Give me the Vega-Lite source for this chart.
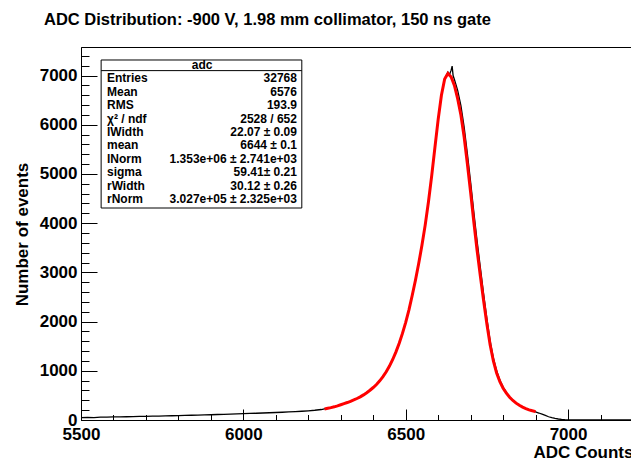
{
  "$schema": "https://vega.github.io/schema/vega-lite/v6.json",
  "width": 552,
  "height": 373,
  "autosize": {"type": "none"},
  "padding": {"left": 81, "top": 47, "right": 0, "bottom": 39},
  "background": "white",
  "config": {
    "view": {"stroke": "black", "strokeWidth": 1},
    "font": "Liberation Sans"
  },
  "title": {
    "text": "ADC Distribution: -900 V, 1.98 mm collimator, 150 ns gate",
    "anchor": "start",
    "frame": "group",
    "orient": "top",
    "offset": 11,
    "baseline": "middle",
    "dx": -37,
    "font": "Liberation Sans",
    "fontSize": 16.5,
    "fontWeight": "bold",
    "color": "black"
  },
  "datasets": {
    "hist": [
      {"adc": 5500, "count": 48}, {"adc": 5520, "count": 53}, {"adc": 5540, "count": 50}, {"adc": 5560, "count": 57},
      {"adc": 5580, "count": 58}, {"adc": 5600, "count": 62}, {"adc": 5620, "count": 64}, {"adc": 5640, "count": 66},
      {"adc": 5660, "count": 68}, {"adc": 5680, "count": 72}, {"adc": 5700, "count": 74}, {"adc": 5720, "count": 78},
      {"adc": 5740, "count": 79}, {"adc": 5760, "count": 84}, {"adc": 5780, "count": 86}, {"adc": 5800, "count": 90},
      {"adc": 5820, "count": 93}, {"adc": 5840, "count": 97}, {"adc": 5860, "count": 100}, {"adc": 5880, "count": 104},
      {"adc": 5900, "count": 107}, {"adc": 5920, "count": 112}, {"adc": 5940, "count": 115}, {"adc": 5960, "count": 120},
      {"adc": 5980, "count": 125}, {"adc": 6000, "count": 129}, {"adc": 6020, "count": 133}, {"adc": 6040, "count": 137},
      {"adc": 6060, "count": 142}, {"adc": 6080, "count": 147}, {"adc": 6100, "count": 152}, {"adc": 6120, "count": 157},
      {"adc": 6140, "count": 164}, {"adc": 6160, "count": 171}, {"adc": 6180, "count": 178}, {"adc": 6200, "count": 187},
      {"adc": 6220, "count": 198}, {"adc": 6240, "count": 213}, {"adc": 6260, "count": 240}, {"adc": 6270, "count": 255},
      {"adc": 6280, "count": 266}, {"adc": 6290, "count": 290}, {"adc": 6300, "count": 306}, {"adc": 6310, "count": 335},
      {"adc": 6320, "count": 352}, {"adc": 6330, "count": 384}, {"adc": 6340, "count": 404}, {"adc": 6350, "count": 440},
      {"adc": 6360, "count": 466}, {"adc": 6370, "count": 514}, {"adc": 6380, "count": 552}, {"adc": 6390, "count": 610},
      {"adc": 6400, "count": 656}, {"adc": 6410, "count": 728}, {"adc": 6420, "count": 790}, {"adc": 6430, "count": 886},
      {"adc": 6440, "count": 975}, {"adc": 6450, "count": 1100}, {"adc": 6460, "count": 1225}, {"adc": 6470, "count": 1390},
      {"adc": 6480, "count": 1555}, {"adc": 6490, "count": 1765}, {"adc": 6500, "count": 1980}, {"adc": 6510, "count": 2245},
      {"adc": 6520, "count": 2525}, {"adc": 6530, "count": 2845}, {"adc": 6540, "count": 3175}, {"adc": 6550, "count": 3555},
      {"adc": 6560, "count": 3955}, {"adc": 6570, "count": 4435}, {"adc": 6580, "count": 4955}, {"adc": 6590, "count": 5545},
      {"adc": 6600, "count": 6105}, {"adc": 6610, "count": 6610}, {"adc": 6620, "count": 6940}, {"adc": 6630, "count": 7070},
      {"adc": 6635, "count": 7020}, {"adc": 6640, "count": 7110}, {"adc": 6643, "count": 7190}, {"adc": 6646, "count": 7000},
      {"adc": 6650, "count": 6920}, {"adc": 6660, "count": 6700}, {"adc": 6670, "count": 6390}, {"adc": 6680, "count": 5950},
      {"adc": 6690, "count": 5410}, {"adc": 6700, "count": 4830}, {"adc": 6710, "count": 4210}, {"adc": 6720, "count": 3630},
      {"adc": 6730, "count": 3090}, {"adc": 6740, "count": 2560}, {"adc": 6750, "count": 2060}, {"adc": 6760, "count": 1610},
      {"adc": 6770, "count": 1260}, {"adc": 6780, "count": 1000}, {"adc": 6790, "count": 810}, {"adc": 6800, "count": 670},
      {"adc": 6810, "count": 560}, {"adc": 6820, "count": 470}, {"adc": 6830, "count": 402}, {"adc": 6840, "count": 348},
      {"adc": 6850, "count": 300}, {"adc": 6860, "count": 262}, {"adc": 6870, "count": 230}, {"adc": 6880, "count": 204},
      {"adc": 6890, "count": 182}, {"adc": 6900, "count": 163}, {"adc": 6910, "count": 142}, {"adc": 6920, "count": 118},
      {"adc": 6930, "count": 92}, {"adc": 6940, "count": 66}, {"adc": 6950, "count": 46}, {"adc": 6960, "count": 31},
      {"adc": 6970, "count": 20}, {"adc": 6980, "count": 12}, {"adc": 6990, "count": 7}, {"adc": 7000, "count": 4},
      {"adc": 7010, "count": 3}, {"adc": 7020, "count": 2}, {"adc": 7030, "count": 3}, {"adc": 7040, "count": 1},
      {"adc": 7060, "count": 2}, {"adc": 7080, "count": 0}, {"adc": 7100, "count": 1}, {"adc": 7120, "count": 0},
      {"adc": 7160, "count": 0}, {"adc": 7200, "count": 0}
    ],
    "fit": [
      {"adc": 6250, "count": 225}, {"adc": 6260, "count": 238}, {"adc": 6270, "count": 252}, {"adc": 6280, "count": 268},
      {"adc": 6290, "count": 288}, {"adc": 6300, "count": 310}, {"adc": 6310, "count": 332}, {"adc": 6320, "count": 355},
      {"adc": 6330, "count": 380}, {"adc": 6340, "count": 407}, {"adc": 6350, "count": 437}, {"adc": 6360, "count": 470},
      {"adc": 6370, "count": 510}, {"adc": 6380, "count": 555}, {"adc": 6390, "count": 605}, {"adc": 6400, "count": 660},
      {"adc": 6410, "count": 722}, {"adc": 6420, "count": 795}, {"adc": 6430, "count": 880}, {"adc": 6440, "count": 980},
      {"adc": 6450, "count": 1095}, {"adc": 6460, "count": 1230}, {"adc": 6470, "count": 1385}, {"adc": 6480, "count": 1560},
      {"adc": 6490, "count": 1760}, {"adc": 6500, "count": 1985}, {"adc": 6510, "count": 2240}, {"adc": 6520, "count": 2530},
      {"adc": 6530, "count": 2840}, {"adc": 6540, "count": 3180}, {"adc": 6550, "count": 3550}, {"adc": 6560, "count": 3960},
      {"adc": 6570, "count": 4430}, {"adc": 6580, "count": 4960}, {"adc": 6590, "count": 5540}, {"adc": 6600, "count": 6110},
      {"adc": 6610, "count": 6600}, {"adc": 6620, "count": 6930}, {"adc": 6630, "count": 7040}, {"adc": 6640, "count": 6970},
      {"adc": 6650, "count": 6800}, {"adc": 6660, "count": 6530}, {"adc": 6670, "count": 6200}, {"adc": 6680, "count": 5750},
      {"adc": 6690, "count": 5200}, {"adc": 6700, "count": 4620}, {"adc": 6710, "count": 4010}, {"adc": 6720, "count": 3440},
      {"adc": 6730, "count": 2920}, {"adc": 6740, "count": 2420}, {"adc": 6750, "count": 1950}, {"adc": 6760, "count": 1530},
      {"adc": 6770, "count": 1200}, {"adc": 6780, "count": 955}, {"adc": 6790, "count": 780}, {"adc": 6800, "count": 645},
      {"adc": 6810, "count": 545}, {"adc": 6820, "count": 462}, {"adc": 6830, "count": 397}, {"adc": 6840, "count": 343},
      {"adc": 6850, "count": 298}, {"adc": 6860, "count": 262}, {"adc": 6870, "count": 232}, {"adc": 6880, "count": 207},
      {"adc": 6890, "count": 187}, {"adc": 6900, "count": 170}
    ],
    "stats": [
      {"row": 1, "label": "Entries", "value": "32768"},
      {"row": 2, "label": "Mean", "value": "6576"},
      {"row": 3, "label": "RMS", "value": "193.9"},
      {"row": 4, "label": "χ² / ndf", "value": "2528 / 652"},
      {"row": 5, "label": "lWidth", "value": "22.07 ± 0.09"},
      {"row": 6, "label": "mean", "value": "6644 ± 0.1"},
      {"row": 7, "label": "lNorm", "value": "1.353e+06 ± 2.741e+03"},
      {"row": 8, "label": "sigma", "value": "59.41± 0.21"},
      {"row": 9, "label": "rWidth", "value": "30.12 ± 0.26"},
      {"row": 10, "label": "rNorm", "value": "3.027e+05 ± 2.325e+03"}
    ],
    "header": [{"row": 0, "label": "adc"}]
  },
  "layer": [
    {
      "layer": [
        {
          "data": {"name": "hist"},
          "mark": {"type": "line", "color": "black", "strokeWidth": 1.3, "clip": true},
          "encoding": {
            "x": {
              "field": "adc", "type": "quantitative",
              "scale": {"domain": [5500, 7200], "nice": false, "zero": false},
              "axis": {
                "orient": "bottom",
                "title": "ADC Counts",
                "values": [5500, 6000, 6500, 7000],
                "format": "d",
                "tickSize": -11,
                "tickColor": "black",
                "domainColor": "black",
                "grid": false,
                "labelFlush": false,
                "labelOverlap": false,
                "labelPadding": 17,
                "labelFont": "Liberation Sans",
                "labelFontWeight": "bold",
                "labelFontSize": 17,
                "labelColor": "black",
                "titleFont": "Liberation Sans",
                "titleFontWeight": "bold",
                "titleFontSize": 17,
                "titleColor": "black",
                "titleAnchor": "end",
                "titleAlign": "right",
                "titleBaseline": "middle",
                "titleX": 552,
                "titleY": 32
              }
            },
            "y": {
              "field": "count", "type": "quantitative",
              "scale": {"domain": [0, 7580], "nice": false},
              "axis": {
                "orient": "left",
                "title": "Number of events",
                "values": [0, 1000, 2000, 3000, 4000, 5000, 6000, 7000],
                "format": "d",
                "tickSize": -16,
                "tickColor": "black",
                "domainColor": "black",
                "grid": false,
                "labelFlush": false,
                "labelOverlap": false,
                "labelPadding": 20,
                "labelFont": "Liberation Sans",
                "labelFontWeight": "bold",
                "labelFontSize": 17,
                "labelColor": "black",
                "titleFont": "Liberation Sans",
                "titleFontWeight": "bold",
                "titleFontSize": 17,
                "titleColor": "black",
                "titleAngle": -90,
                "titleAlign": "center",
                "titleBaseline": "middle",
                "titleX": -59,
                "titleY": 187
              }
            }
          }
        },
        {
          "data": {"name": "fit"},
          "mark": {"type": "line", "color": "#ff0000", "strokeWidth": 3},
          "encoding": {
            "x": {
              "field": "adc", "type": "quantitative",
              "axis": {
                "orient": "bottom",
                "title": null,
                "values": [5600, 5700, 5800, 5900, 6100, 6200, 6300, 6400, 6600, 6700, 6800, 6900, 7100],
                "tickSize": -5.5,
                "tickColor": "black",
                "domain": false,
                "grid": false,
                "labels": false
              }
            },
            "y": {
              "field": "count", "type": "quantitative",
              "axis": {
                "orient": "left",
                "title": null,
                "values": [200, 400, 600, 800, 1200, 1400, 1600, 1800, 2200, 2400, 2600, 2800, 3200, 3400, 3600, 3800, 4200, 4400, 4600, 4800, 5200, 5400, 5600, 5800, 6200, 6400, 6600, 6800, 7200, 7400],
                "tickSize": -8,
                "tickColor": "black",
                "domain": false,
                "grid": false,
                "labels": false
              }
            }
          }
        },
        {
          "data": {"values": [{}]},
          "mark": {"type": "rect", "fill": "white", "stroke": "black", "strokeWidth": 1},
          "encoding": {
            "x": {"datum": 5562, "axis": null},
            "x2": {"datum": 6180},
            "y": {"datum": 7316, "axis": null},
            "y2": {"datum": 4308}
          }
        },
        {
          "data": {"values": [{}]},
          "mark": {"type": "rule", "color": "black", "strokeWidth": 1},
          "encoding": {
            "x": {"datum": 5562, "axis": null},
            "x2": {"datum": 6180},
            "y": {"datum": 7100, "axis": null}
          }
        }
      ],
      "resolve": {"axis": {"x": "independent", "y": "independent"}}
    },
    {
      "layer": [
        {
          "data": {"name": "header"},
          "mark": {"type": "text", "align": "center", "baseline": "middle", "font": "Liberation Sans", "fontWeight": "bold", "fontSize": 12, "color": "black"},
          "encoding": {
            "x": {"datum": 5873, "axis": null},
            "y": {"field": "row", "type": "quantitative", "scale": {"domain": [0, 10], "range": [18, 152]}, "axis": null},
            "text": {"field": "label"}
          }
        },
        {
          "data": {"name": "stats"},
          "mark": {"type": "text", "align": "left", "baseline": "middle", "font": "Liberation Sans", "fontWeight": "bold", "fontSize": 12, "color": "black"},
          "encoding": {
            "x": {"datum": 5580, "axis": null},
            "y": {"field": "row", "type": "quantitative", "axis": null},
            "text": {"field": "label"}
          }
        },
        {
          "data": {"name": "stats"},
          "mark": {"type": "text", "align": "right", "baseline": "middle", "font": "Liberation Sans", "fontWeight": "bold", "fontSize": 12, "color": "black"},
          "encoding": {
            "x": {"datum": 6165, "axis": null},
            "y": {"field": "row", "type": "quantitative", "axis": null},
            "text": {"field": "value"}
          }
        }
      ]
    }
  ],
  "resolve": {"scale": {"y": "independent"}}
}
